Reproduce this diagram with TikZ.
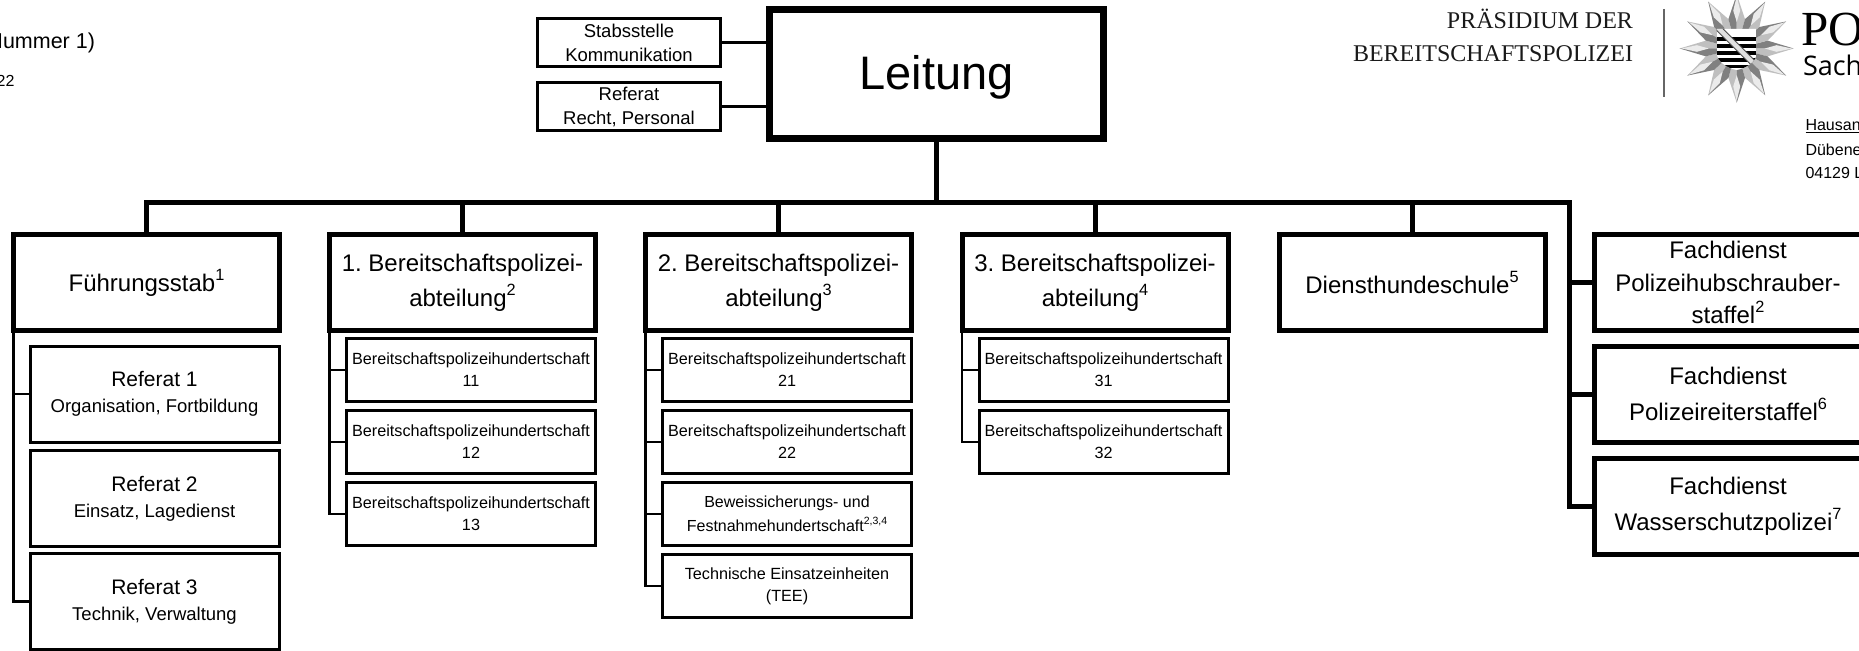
\documentclass[tikz,border=0pt]{standalone}
\usepackage{fontspec}
\setmainfont{Liberation Sans}
\newfontfamily\logoserif{Liberation Serif}
\newfontfamily\logosans{Open Sans}
\usepackage{tikz}
\usetikzlibrary{positioning, calc}
\tikzset{
  abtbox/.style={draw, line width=5pt, fill=white, outer sep=0pt, inner sep=0pt, align=center,
    minimum width=266pt, minimum height=96pt, font=\fontsize{24}{35}\selectfont},
  fachbox/.style={abtbox, font=\fontsize{24}{36}\selectfont},
  refbox/.style={draw, line width=3pt, fill=white, outer sep=0pt, inner sep=0pt, align=center,
    minimum width=249pt, minimum height=96pt, font=\fontsize{18.5}{26}\selectfont},
  hschbox/.style={draw, line width=3pt, fill=white, outer sep=0pt, inner sep=0pt, align=center,
    minimum width=249pt, minimum height=63pt, font=\fontsize{16.2}{22}\selectfont},
  stabbox/.style={draw, line width=3pt, fill=white, outer sep=0pt, inner sep=0pt, align=center,
    minimum width=183pt, minimum height=48pt, font=\fontsize{18.5}{24}\selectfont},
  busline/.style={line width=5pt},
  stabline/.style={line width=3pt},
  astline/.style={line width=2.8pt},
  plain/.style={inner sep=0pt, outer sep=0pt}
}
\newcommand{\reftitle}[1]{{\fontsize{21}{26}\selectfont #1}}
\newcommand{\hoch}[2][16.3]{\raisebox{.46em}{\fontsize{#1}{#1}\selectfont #2}}
\begin{document}
\frenchspacing
\begin{tikzpicture}[x=1pt,y=-1pt]
\useasboundingbox (0,0) rectangle (1859,650);
\clip (0,0) rectangle (1859,650);

% top row
\node[draw, line width=7pt, fill=white, outer sep=0pt, inner sep=0pt, minimum width=334pt,
  minimum height=128.5pt, text height=40pt, text depth=10pt, font=\fontsize{47}{50}\selectfont] (Leitung) at (936.75,74.25) {Leitung};
\node[stabbox] (Stab) at (629,42.5) {Stabsstelle\\Kommunikation};
\node[stabbox] (RefRecht) at (629,106.5) {Referat\\Recht, Personal};

% second row
\node[abtbox] (FS) at (146.5,282.5) {Führungsstab\hoch{1}};
\node[abtbox] (Abt1) at (462.5,282.5) {1. Bereitschaftspolizei-\\abteilung\hoch{2}};
\node[abtbox] (Abt2) at (778.5,282.5) {2. Bereitschaftspolizei-\\abteilung\hoch{3}};
\node[abtbox] (Abt3) at (1095,282.5) {3. Bereitschaftspolizei-\\abteilung\hoch{4}};
\node[abtbox] (Hund) at (1412,282.5) {Diensthundeschule\hoch{5}};

\node[fachbox, minimum width=267pt, font=\fontsize{24}{32.5}\selectfont] (FD1) at (1728,282.5)
  {Fachdienst\\Polizeihubschrauber-\\staffel\hoch{2}};
\node[fachbox, minimum width=267pt] (FD2) at (1728,394) {Fachdienst\\Polizeireiterstaffel\hoch{6}};
\node[fachbox, minimum width=267pt] (FD3) at (1728,506.5) {Fachdienst\\Wasserschutzpolizei\hoch{7}};

% Referate
\node[refbox] (R1) at (154.5,394) {\reftitle{Referat 1}\\Organisation, Fortbildung};
\node[refbox] (R2) at (154.5,498.5) {\reftitle{Referat 2}\\Einsatz, Lagedienst};
\node[refbox] (R3) at (154.5,601.5) {\reftitle{Referat 3}\\Technik, Verwaltung};

% Hundertschaften
\node[hschbox] (H11) at (471,370) {Bereitschaftspolizeihundertschaft\\11};
\node[hschbox] (H12) at (471,442) {Bereitschaftspolizeihundertschaft\\12};
\node[hschbox] (H13) at (471,514) {Bereitschaftspolizeihundertschaft\\13};

\node[hschbox] (H21) at (787,370) {Bereitschaftspolizeihundertschaft\\21};
\node[hschbox] (H22) at (787,442) {Bereitschaftspolizeihundertschaft\\22};
\node[hschbox, font=\fontsize{16}{24}\selectfont] (H23) at (787,514)
  {Beweissicherungs- und\\Festnahmehundertschaft\hoch[10.5]{2,3,4}};
\node[hschbox] (H24) at (787,586) {Technische Einsatzeinheiten\\(TEE)};

\node[hschbox] (H31) at (1103.5,370) {Bereitschaftspolizeihundertschaft\\31};
\node[hschbox] (H32) at (1103.5,442) {Bereitschaftspolizeihundertschaft\\32};

% connectors
\coordinate (BusEnd) at (1569,202.5);
\draw[busline] (FS.north) |- (BusEnd) |- (FD3.west);
\draw[busline] (Leitung.south) -- (Leitung.south |- BusEnd);
\draw[busline] (Abt1.north |- BusEnd) -- (Abt1.north);
\draw[busline] (Abt2.north |- BusEnd) -- (Abt2.north);
\draw[busline] (Abt3.north |- BusEnd) -- (Abt3.north);
\draw[busline] (Hund.north |- BusEnd) -- (Hund.north);
\draw[busline] (BusEnd |- FD1.west) -- (FD1.west);
\draw[busline] (BusEnd |- FD2.west) -- (FD2.west);

\draw[stabline] (Stab.east) -- (Stab.east -| Leitung.west);
\draw[stabline] (RefRecht.east) -- (RefRecht.east -| Leitung.west);

\draw[astline] (FS.south west) |- (R3.west);
\draw[astline] (FS.south west |- R1.west) -- (R1.west);

\draw[astline] (Abt1.south west) |- (H13.west);
\draw[astline] (Abt1.south west |- H11.west) -- (H11.west);
\draw[astline] (Abt1.south west |- H12.west) -- (H12.west);

\draw[astline] (Abt2.south west) |- (H24.west);
\draw[astline] (Abt2.south west |- H21.west) -- (H21.west);
\draw[astline] (Abt2.south west |- H22.west) -- (H22.west);
\draw[astline] (Abt2.south west |- H23.west) -- (H23.west);

\draw[astline] (Abt3.south west) |- (H32.west);
\draw[astline] (Abt3.south west |- H31.west) -- (H31.west);

% letter head
\node[plain, anchor=base east, font=\fontsize{21.5}{24}\selectfont] (Nummer) at (95,49) {Nummer 1)};
\node[plain, anchor=base east, font=\fontsize{16}{18}\selectfont] (Datum) at (14.5,87) {22};

\node[plain, anchor=base east, text=black!90, font=\logoserif\fontsize{24}{28}\selectfont] (Praes) at (1633,29) {PRÄSIDIUM DER};
\node[plain, anchor=base east, text=black!90, font=\logoserif\fontsize{24}{28}\selectfont] (Bepo) at (1633,61.5) {BEREITSCHAFTSPOLIZEI};
\draw[line width=1.5pt, black!60] (1664,9) -- (1664,97);

% star
\begin{scope}[shift={(1736.7,48.5)}]
\begin{scope}[yscale=.95]
\foreach \a in {0,30,...,330} {
  \fill[black!25] (0,0) -- (\a:57) -- (\a+15:32) -- cycle;
  \fill[black!50] (0,0) -- (\a:57) -- (\a-15:32) -- cycle;
  \fill[black!8] (\a:55) -- (\a+5:40) -- (\a:28) -- (\a-5:40) -- cycle;
}
\end{scope}
\begin{scope}
\clip (-20,-19.5) -- (20,-19.5) -- (20,4) .. controls (20,14) and (8,20) .. (0,21.5)
  .. controls (-8,20) and (-20,14) .. (-20,4) -- cycle;
\fill[white] (-20,-20) rectangle (20,22);
\foreach \s in {-11,-4,3,10,16.5} {
  \fill[black] (-20,\s) rectangle (20,\s+3.2);
}
\draw[line width=6.5pt, black!70] (-19,-21) -- (18,16);
\draw[line width=4.5pt, black!12] (-19,-21) -- (18,16);
\end{scope}
\end{scope}

\node[plain, anchor=base west, font=\logoserif\fontsize{49}{52}\selectfont] (PO) at (1801.5,45.5) {PO};
\node[plain, anchor=base west, font=\logosans\fontsize{27}{30}\selectfont] (Sach) at (1803,76) {Sach};

\node[plain, anchor=base west, font=\fontsize{16}{18}\selectfont] (Haus) at (1805.5,130.5) {\underline{Hausan}};
\node[plain, anchor=base west, font=\fontsize{16}{18}\selectfont] (Strasse) at (1805.5,155) {Dübene};
\node[plain, anchor=base west, font=\fontsize{16}{18}\selectfont] (Ort) at (1805.5,178.5) {04129 L};

\end{tikzpicture}
\end{document}
